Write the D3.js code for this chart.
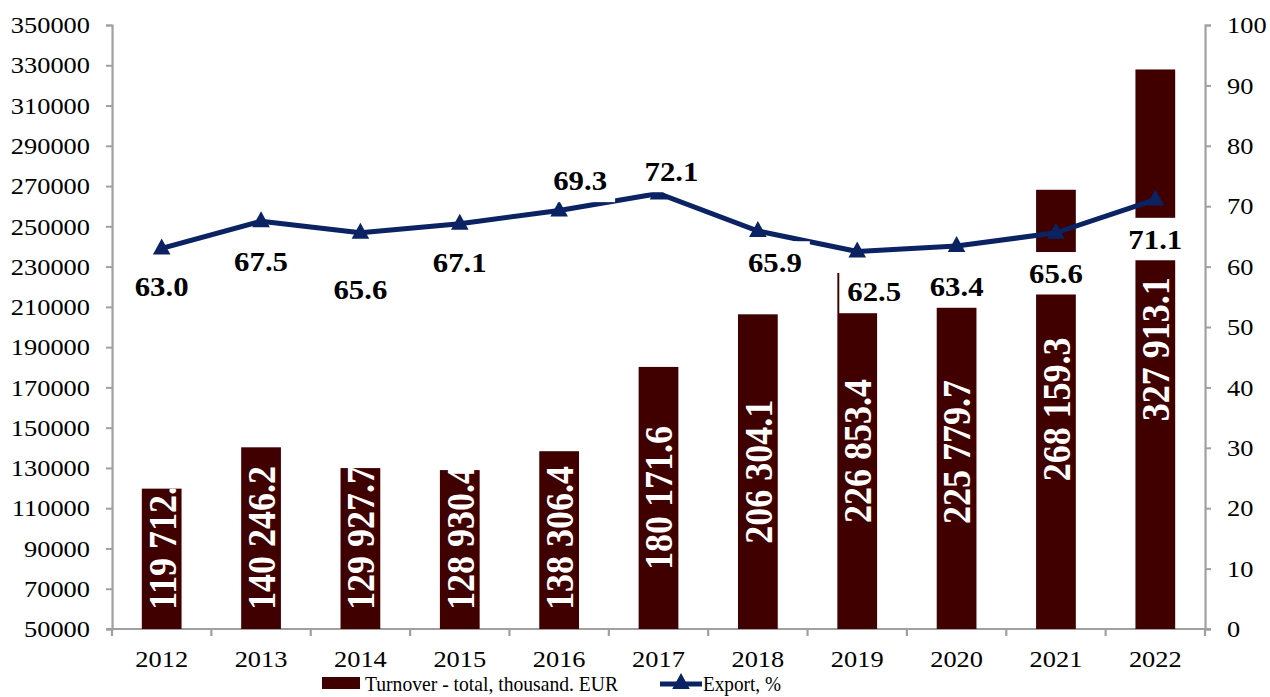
<!DOCTYPE html>
<html>
<head>
<meta charset="utf-8">
<script src="https://cdn.jsdelivr.net/npm/d3@7"></script>
<style>
  html, body { margin: 0; padding: 0; background: #fff; }
  svg { display: block; }
  text { font-family: "Times New Roman", "Liberation Serif", serif; }
</style>
</head>
<body>
<svg id="chart"></svg>
<script>
var years = ["2012", "2013", "2014", "2015", "2016", "2017", "2018", "2019", "2020", "2021", "2022"];
var turnover = [119712.5, 140246.2, 129927.7, 128930.4, 138306.4, 180171.6, 206304.1, 226853.4, 225779.7, 268159.3, 327913.1];
var exportShare = [63.0, 67.5, 65.6, 67.1, 69.3, 72.1, 65.9, 62.5, 63.4, 65.6, 71.1];
var leftTicks = [50000, 70000, 90000, 110000, 130000, 150000, 170000, 190000, 210000, 230000, 250000, 270000, 290000, 310000, 330000, 350000];
var rightTicks = [0, 10, 20, 30, 40, 50, 60, 70, 80, 90, 100];
var legendNames = ["Turnover - total, thousand. EUR", "Export, %"];

// where each export label sits relative to its point (px)
var labelShift = [[0, 48], [0, 50], [0, 66], [0, 48], [21, -20], [13, -13], [17, 41], [17, 50], [0, 50], [0, 50], [0, 49]];

var S = 1.1,               // the picture is stretched sideways
	W = 1270 / S, H = 697;
var barColor = "#400000",
	lineColor = "#0b2362",
	axisColor = "#a0a0a0";

var svg = d3.select("#chart")
	.attr("width", 1270).attr("height", H)
	.attr("viewBox", "0 0 " + W + " " + H)
	.attr("preserveAspectRatio", "none");

var plotLeft = 112 / S, plotRight = 1205 / S, plotTop = 25, plotBottom = 629;

var x = d3.scaleBand().domain(years).range([plotLeft, plotRight]).paddingInner(0.6).paddingOuter(0.3),
	yL = d3.scaleLinear().domain([50000, 350000]).range([plotBottom, plotTop]),
	yR = d3.scaleLinear().domain([0, 100]).range([plotBottom, plotTop]);

var fmt = d3.formatLocale({decimal: ".", thousands: " ", grouping: [3]}).format(",.1f");

// axes
var axL = svg.append("g").attr("class", "axis")
	.attr("transform", "translate(" + plotLeft + ",0)")
	.call(d3.axisLeft(yL).tickValues(leftTicks).tickSize(6 / S).tickPadding(16 / S).tickFormat(d3.format("d")));
var axR = svg.append("g").attr("class", "axis")
	.attr("transform", "translate(" + plotRight + ",0)")
	.call(d3.axisRight(yR).tickValues(rightTicks).tickSize(6 / S).tickPadding(16 / S));
var axB = svg.append("g").attr("class", "axis")
	.attr("transform", "translate(0," + plotBottom + ")")
	.call(d3.axisBottom(x).tickSize(0).tickPadding(30));

// category boundary ticks on the bottom axis
var step = x.step();
svg.append("g").selectAll("line")
	.data(d3.range(years.length + 1))
	.enter().append("line")
		.attr("x1", function(i) { return plotLeft + i * step; })
		.attr("x2", function(i) { return plotLeft + i * step; })
		.attr("y1", plotBottom).attr("y2", plotBottom + 7)
		.attr("stroke", axisColor).attr("stroke-width", 2);

svg.selectAll(".axis path.domain").attr("stroke", axisColor).attr("stroke-width", 2);
axB.select("path.domain").attr("d", "M" + (plotLeft - 6 / S) + ",0H" + (plotRight + 6 / S));
svg.selectAll(".axis .tick line").attr("stroke", axisColor).attr("stroke-width", 2);
svg.selectAll(".axis text").attr("fill", "#000").style("font-size", "24px")
	.style("font-family", "'Times New Roman', 'Liberation Serif', serif");
axB.selectAll("text").attr("dy", "0.32em");

// bars
var defs = svg.append("defs");
turnover.forEach(function(v, i) {
	defs.append("clipPath").attr("id", "clip" + i)
		.append("rect")
			.attr("x", x(years[i])).attr("y", yL(v))
			.attr("width", x.bandwidth()).attr("height", plotBottom - yL(v));
});

svg.append("g").selectAll("rect")
	.data(turnover)
	.enter().append("rect")
		.attr("x", function(d, i) { return x(years[i]); })
		.attr("y", function(d) { return yL(d); })
		.attr("width", x.bandwidth())
		.attr("height", function(d) { return plotBottom - yL(d); })
		.attr("fill", barColor);

var barLabels = svg.append("g").selectAll("g")
	.data(turnover)
	.enter().append("g")
		.attr("clip-path", function(d, i) { return "url(#clip" + i + ")"; });
barLabels.each(function(d, i) {
	var t = d3.select(this).append("text")
		.attr("fill", "#fff")
		.style("font-size", "36px").style("font-weight", "bold")
		.attr("text-anchor", "start")
		.attr("dy", "0.35em")
		.text(fmt(d));
	var len = t.node().getComputedTextLength(),
		mid = (yL(d) + plotBottom) / 2,
		start = Math.min(mid + len / 2, plotBottom - 19);
	t.attr("transform", "translate(" + (x(years[i]) + x.bandwidth() / 2) + "," + start + ") rotate(-90)");
});

// export line
var cx = function(i) { return x(years[i]) + x.bandwidth() / 2; };
var line = d3.line()
	.x(function(d, i) { return cx(i); })
	.y(function(d) { return yR(d); });
svg.append("path").datum(exportShare)
	.attr("d", line)
	.attr("fill", "none")
	.attr("stroke", lineColor)
	.attr("stroke-width", 5)
	.attr("stroke-linejoin", "round");

var tri = "M0,-9L8,7L-8,7Z";
svg.append("g").selectAll("path")
	.data(exportShare)
	.enter().append("path")
		.attr("d", tri)
		.attr("fill", lineColor)
		.attr("transform", function(d, i) { return "translate(" + cx(i) + "," + (yR(d) - 1) + ")"; });

// export labels with white boxes
var lbl = svg.append("g");
exportShare.forEach(function(v, i) {
	var g = lbl.append("g");
	var bx = g.append("rect").attr("fill", "#fff");
	var t = g.append("text")
		.attr("x", cx(i) + labelShift[i][0] / S)
		.attr("y", yR(v) + labelShift[i][1])
		.attr("text-anchor", "middle")
		.style("font-size", "28px").style("font-weight", "bold")
		.attr("fill", "#000")
		.text(d3.format(".1f")(v));
	var b = t.node().getBBox();
	bx.attr("x", b.x - 8 / S).attr("y", b.y - 6)
		.attr("width", b.width + 16 / S).attr("height", b.height + 12);
});

// legend
var lg = svg.append("g");
lg.append("rect")
	.attr("x", 322 / S).attr("y", 677).attr("width", 38 / S).attr("height", 12)
	.attr("fill", barColor);
lg.append("text")
	.attr("x", 365 / S).attr("y", 691)
	.style("font-size", "22px").attr("fill", "#000")
	.attr("textLength", 253 / S).attr("lengthAdjust", "spacingAndGlyphs")
	.text(legendNames[0]);
lg.append("line")
	.attr("x1", 660 / S).attr("x2", 702 / S).attr("y1", 684).attr("y2", 684)
	.attr("stroke", lineColor).attr("stroke-width", 5);
lg.append("path")
	.attr("d", tri).attr("fill", lineColor)
	.attr("transform", "translate(" + (681 / S) + ",682)");
lg.append("text")
	.attr("x", 703 / S).attr("y", 691)
	.style("font-size", "22px").attr("fill", "#000")
	.attr("textLength", 78 / S).attr("lengthAdjust", "spacingAndGlyphs")
	.text(legendNames[1]);
</script>
</body>
</html>
